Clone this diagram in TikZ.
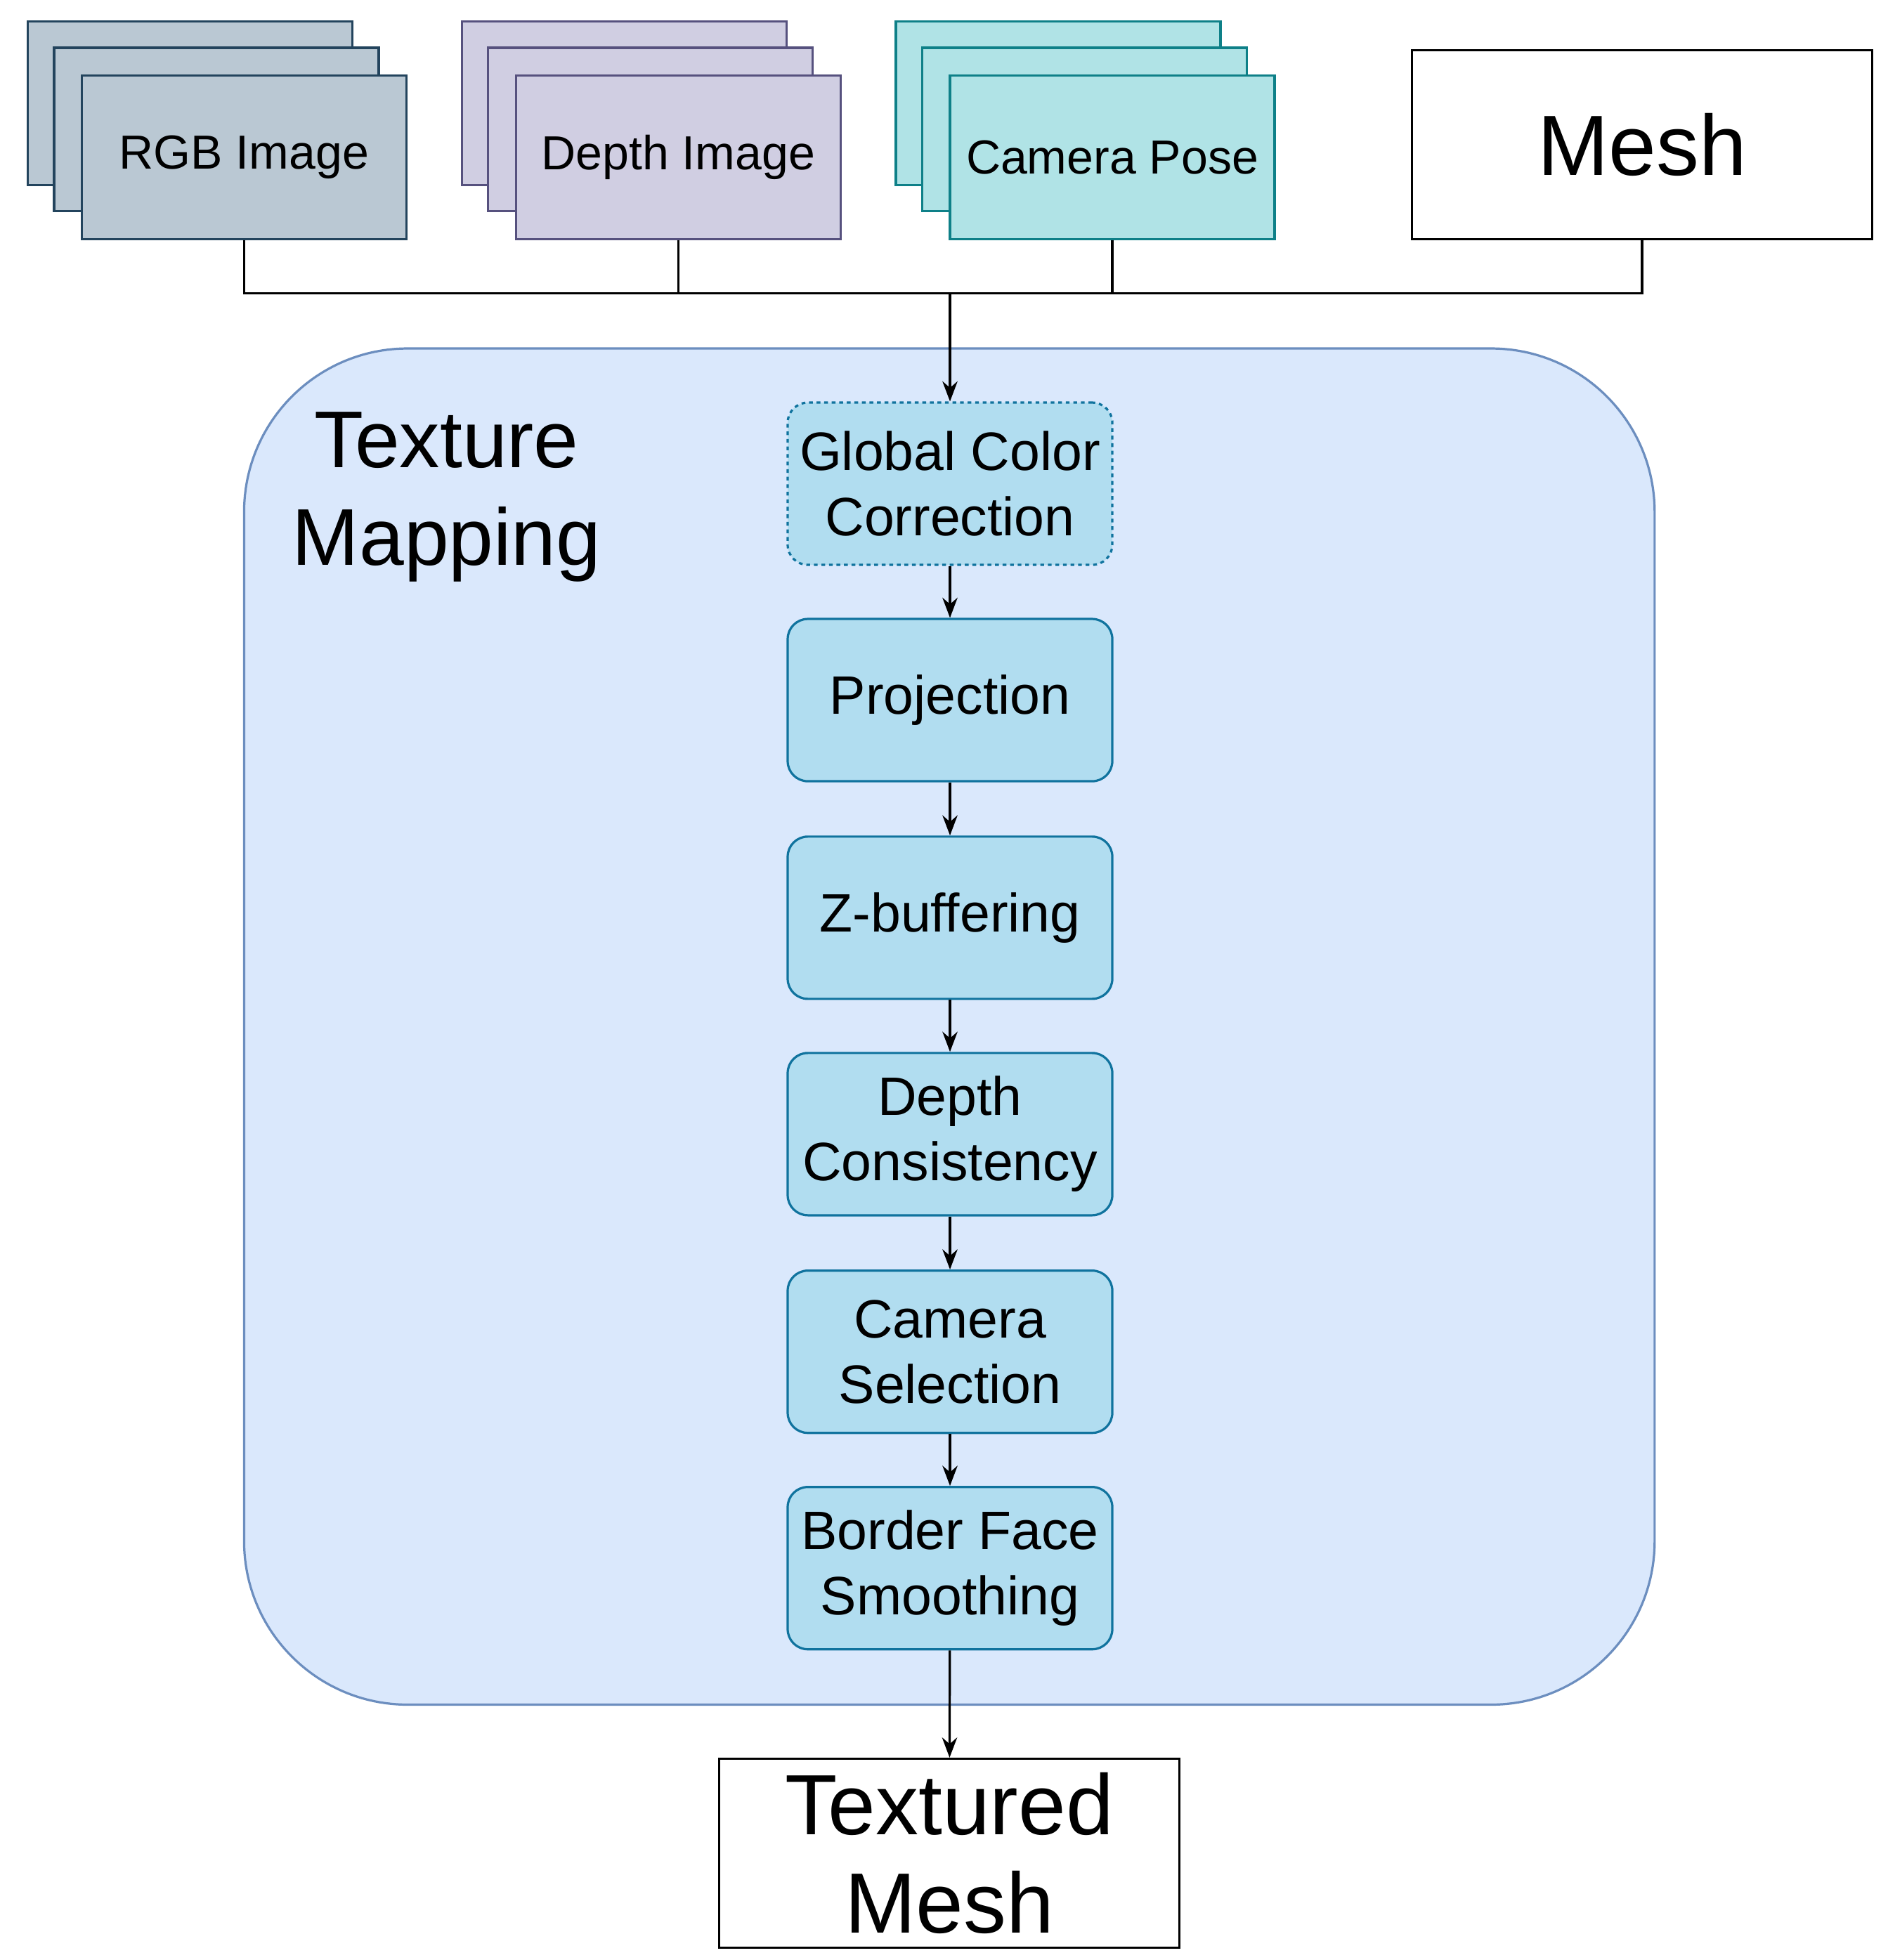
\documentclass[tikz,border=0pt]{standalone}
\usepackage{fontspec}
\setmainfont{Liberation Sans}
\usetikzlibrary{arrows.meta}
\begin{document}
\begin{tikzpicture}[x=1pt,y=-1pt,line width=1.8pt,
 card/.style={draw,minimum width=258pt,minimum height=130pt,inner sep=0pt,font=\fontsize{38}{44}\selectfont},
 rgb/.style={card,fill=rgbf,draw=rgbd},
 dep/.style={card,fill=depf,draw=depd},
 cam/.style={card,fill=camf,draw=camd},
 stage/.style={draw=stepd,fill=stepf,rounded corners=16pt,minimum width=258pt,minimum height=129pt,inner sep=0pt,align=center,font=\fontsize{43}{52}\selectfont},
 plain/.style={draw,fill=white,minimum width=366pt,minimum height=150pt,inner sep=0pt,align=center,font=\fontsize{68}{78}\selectfont},
 arr/.style={-{Stealth[length=16pt,width=12pt]}}]
\definecolor{rgbf}{HTML}{BAC8D3}\definecolor{rgbd}{HTML}{23445D}
\definecolor{depf}{HTML}{D0CEE2}\definecolor{depd}{HTML}{56517E}
\definecolor{camf}{HTML}{B0E3E6}\definecolor{camd}{HTML}{0E8088}
\definecolor{stepf}{HTML}{B1DDF0}\definecolor{stepd}{HTML}{10739E}
\definecolor{contf}{HTML}{DAE8FC}\definecolor{contd}{HTML}{6C8EBF}
\useasboundingbox (0,0) rectangle (1500,1558);
\fill[white] (0,0) rectangle (1500,1558);
% stacks
\node[rgb] (r1) at (151,82) {};
\node[rgb] (r2) at (172,103) {};
\node[rgb] (rgb) at (194,125) {RGB Image};
\node[dep] (d1) at (496,82) {};
\node[dep] (d2) at (517,103) {};
\node[dep] (dep) at (539,125) {Depth Image};
\node[cam] (c1) at (841,82) {};
\node[cam] (c2) at (862,103) {};
\node[cam] (cam) at (884,125) {Camera Pose};
\node[plain] (mesh) at (1305,115) {Mesh};
% container
\node[draw=contd,fill=contf,rounded corners=130pt,minimum width=1121pt,minimum height=1078pt,inner sep=0pt] (cont) at (754.5,816) {};
\node[align=center,font=\fontsize{64}{78}\selectfont] (title) at (355,395) {Texture\\Mapping};
\node[stage,dashed] (gcc) at (755,384.5) {Global Color\\Correction};
\node[stage] (proj) at (755,556.5) {Projection};
\node[stage] (zb) at (755,729.5) {Z-buffering};
\node[stage] (dc) at (755,901.5) {Depth\\Consistency};
\node[stage] (cs) at (755,1074.5) {Camera\\Selection};
\node[stage] (bf) at (755,1246.5) {Border Face\\Smoothing};
\node[plain] (tm) at (754.5,1473) {Textured\\Mesh};
% connectors
\coordinate (j) at (755,233);
\draw (rgb.south) |- (mesh.south |- j) -- (mesh.south);
\draw (dep.south) -- (dep.south |- j);
\draw (cam.south) -- (cam.south |- j);
\draw[arr] (j) -- (gcc.north);
\draw[arr] (gcc) -- (proj);
\draw[arr] (proj) -- (zb);
\draw[arr] (zb) -- (dc);
\draw[arr] (dc) -- (cs);
\draw[arr] (cs) -- (bf);
\draw[arr] (bf) -- (tm);
\end{tikzpicture}
\end{document}
